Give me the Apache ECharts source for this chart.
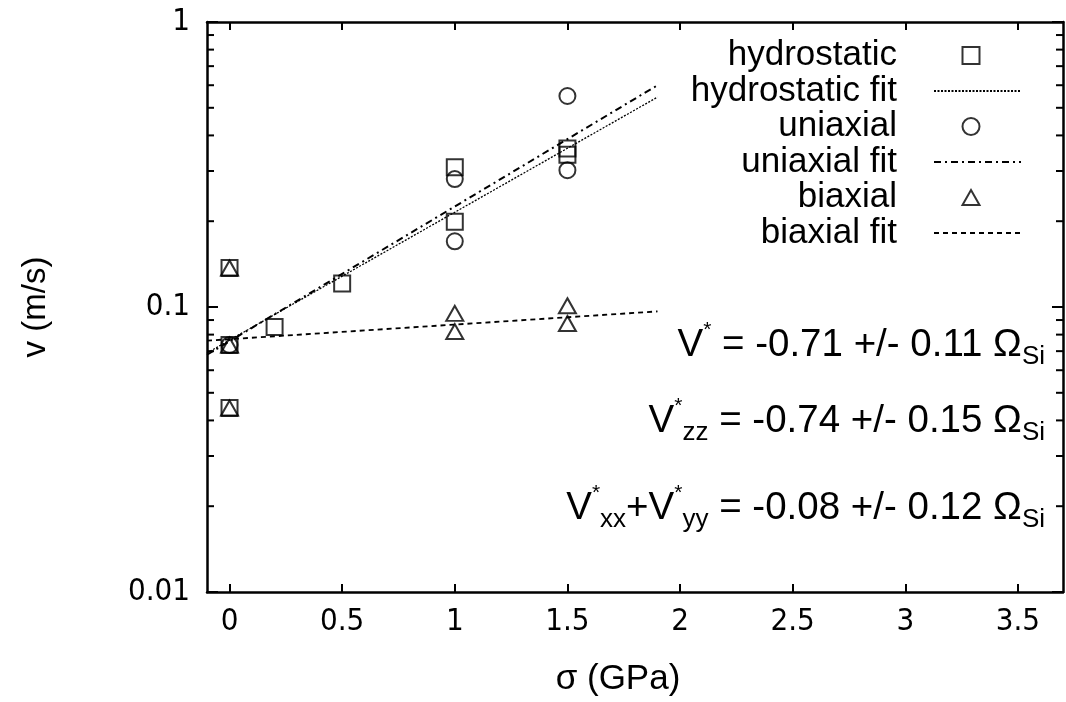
<!DOCTYPE html>
<html>
<head>
<meta charset="utf-8">
<script src="https://cdn.jsdelivr.net/npm/echarts@6/dist/echarts.min.js"></script>
<style>html,body{margin:0;padding:0;background:#fff}#c{width:1066px;height:702px}</style>
</head>
<body>
<div id="c"></div>
<script>
const xTicks = [0, 0.5, 1, 1.5, 2, 2.5, 3, 3.5];
const yMinorTicks = [0.02,0.03,0.04,0.05,0.06,0.07,0.08,0.09,0.2,0.3,0.4,0.5,0.6,0.7,0.8,0.9];

const hydroX = [0, 0, 0, 0.2, 0.5, 1, 1, 1.5, 1.5];
const hydroV = [0.137, 0.0735, 0.0442, 0.085, 0.121, 0.309, 0.199, 0.36, 0.342];
const uniX = [0, 1, 1, 1.5, 1.5];
const uniV = [0.0735, 0.281, 0.17, 0.55, 0.302];
const biX = [0, 0, 0, 1, 1, 1.5, 1.5];
const biV = [0.137, 0.0735, 0.0442, 0.095, 0.082, 0.101, 0.0875];
const fitX = [-0.1, 1.9];
const hydroFitV = [0.069, 0.545];
const uniFitV = [0.068, 0.60];
const biFitV = [0.0762, 0.0965];

const legendNames = ['hydrostatic', 'hydrostatic fit', 'uniaxial', 'uniaxial fit', 'biaxial', 'biaxial fit'];

const FONT = 'Liberation Sans, Arial, sans-serif';
const NARROW = '"Liberation Sans Narrow", "Arial Narrow", "DejaVu Sans Condensed", sans-serif';
const zip = (xs, ys) => xs.map((x, i) => [x, ys[i]]);
const markStyle = {color: 'rgba(0,0,0,0)', borderColor: '#000', borderWidth: 2};

const chart = echarts.init(document.getElementById('c'), null, {renderer: 'canvas'});

const richStyles = {
  m: {fontSize: 38.5, lineHeight: 50, verticalAlign: 'middle', fontFamily: FONT, color: '#000'},
  sup: {fontSize: 21, lineHeight: 21, verticalAlign: 'top', fontFamily: FONT, color: '#000'},
  sub: {fontSize: 26, lineHeight: 26, verticalAlign: 'bottom', fontFamily: FONT, color: '#000'}
};
function ann(text, y) {
  return {type: 'text', x: 1045, y: y, silent: true,
    style: {text: text, rich: richStyles, align: 'right', verticalAlign: 'middle', fontFamily: FONT}};
}

// one legend row per entry so each icon keeps its own size
const rowTop = 48, rowGap = 35.5;
function legendRow(i) {
  const name = legendNames[i];
  const isLine = i % 2 === 1;
  const cy = rowTop + i * rowGap;
  const base = {
    orient: 'vertical', align: 'right', selectedMode: false,
    data: [name],
    textStyle: {fontSize: 35, lineHeight: 30, fontFamily: FONT, color: '#000'}
  };
  if (isLine) {
    return Object.assign(base, {
      right: 39, top: cy - 15, itemWidth: 87, itemHeight: 17,
      itemStyle: {opacity: 0, borderWidth: 0},
      textStyle: Object.assign(base.textStyle, {padding: [0, 32, 0, 0]})
    });
  }
  const h = i === 4 ? 15 : 17;
  return Object.assign(base, {
    right: 80.5, top: cy - 15, itemWidth: 17, itemHeight: h,
    itemStyle: {color: 'rgba(0,0,0,0)', borderColor: '#000', borderWidth: 2},
    textStyle: Object.assign(base.textStyle, {padding: [0, 60.5, 0, 0]})
  });
}

const axisCommonX = {
  type: 'value', min: -0.1, max: 3.7,
  axisLine: {show: true, onZero: false, lineStyle: {color: '#000', width: 2.5}},
  splitLine: {show: false},
  axisTick: {show: true, inside: true, length: 8, customValues: xTicks, lineStyle: {color: '#000', width: 2}}
};
const axisCommonY = {
  type: 'log', logBase: 10, min: 0.01, max: 1,
  axisLine: {show: true, onZero: false, lineStyle: {color: '#000', width: 2.5}},
  splitLine: {show: false},
  axisTick: {show: true, inside: true, length: 11, lineStyle: {color: '#000', width: 2}}
};

chart.setOption({
  animation: false,
  backgroundColor: '#fff',
  grid: {left: 207, right: 3, top: 22, bottom: 110, containLabel: false},
  xAxis: [
    Object.assign({}, axisCommonX, {
      position: 'bottom',
      name: 'σ (GPa)', nameLocation: 'middle', nameGap: 70,
      nameTextStyle: {fontSize: 35, fontFamily: FONT, color: '#000', padding: [0, 34, 0, 0]},
      axisLabel: {show: true, customValues: xTicks, margin: 14, fontSize: 31, fontFamily: NARROW, color: '#000',
        formatter: v => String(v)}
    }),
    Object.assign({}, axisCommonX, {position: 'top', axisLabel: {show: false}})
  ],
  yAxis: [
    Object.assign({}, axisCommonY, {
      position: 'left',
      name: 'v (m/s)', nameLocation: 'middle', nameGap: 155, nameRotate: 90,
      nameTextStyle: {fontSize: 33, fontFamily: FONT, color: '#000'},
      axisLabel: {show: true, margin: 17, fontSize: 31, fontFamily: NARROW, color: '#000',
        formatter: v => String(+v.toPrecision(3))}
    }),
    Object.assign({}, axisCommonY, {position: 'right', axisLabel: {show: false}})
  ],
  legend: [0, 1, 2, 3, 4, 5].map(legendRow),
  series: [
    {name: 'hydrostatic', type: 'scatter', data: zip(hydroX, hydroV), symbol: 'rect', symbolSize: 16,
      itemStyle: markStyle, emphasis: {disabled: true}, z: 5},
    {name: 'hydrostatic fit', type: 'line', data: zip(fitX, hydroFitV), symbol: 'none', showSymbol: false,
      lineStyle: {color: '#000', width: 1.3, type: [2, 1.5]}, emphasis: {disabled: true}},
    {name: 'uniaxial', type: 'scatter', data: zip(uniX, uniV), symbol: 'circle', symbolSize: 16,
      itemStyle: markStyle, emphasis: {disabled: true}, z: 5},
    {name: 'uniaxial fit', type: 'line', data: zip(fitX, uniFitV), symbol: 'none', showSymbol: false,
      lineStyle: {color: '#000', width: 2, type: [7, 4, 2, 4]}, emphasis: {disabled: true}},
    {name: 'biaxial', type: 'scatter', data: zip(biX, biV), symbol: 'triangle', symbolSize: [17, 15],
      itemStyle: markStyle, emphasis: {disabled: true}, z: 5},
    {name: 'biaxial fit', type: 'line', data: zip(fitX, biFitV), symbol: 'none', showSymbol: false,
      lineStyle: {color: '#000', width: 1.8, type: [5, 4]}, emphasis: {disabled: true}},
    {name: 'minorTicks', type: 'custom', data: yMinorTicks.map(v => [-0.1, v]),
      encode: {x: 0, y: 1}, silent: true, clip: false,
      renderItem: function (params, api) {
        const v = api.value(1);
        const pl = api.coord([-0.1, v]);
        const pr = api.coord([3.7, v]);
        const st = {stroke: '#000', lineWidth: 2};
        return {type: 'group', children: [
          {type: 'line', shape: {x1: pl[0], y1: pl[1], x2: pl[0] + 7, y2: pl[1]}, style: st},
          {type: 'line', shape: {x1: pr[0], y1: pr[1], x2: pr[0] - 7, y2: pr[1]}, style: st}
        ]};
      }}
  ],
  graphic: [
    ann('{m|V}{sup|*}{m| = -0.71 +/- 0.11 Ω}{sub|Si}', 345),
    ann('{m|V}{sup|*}{sub|zz}{m| = -0.74 +/- 0.15 Ω}{sub|Si}', 421),
    ann('{m|V}{sup|*}{sub|xx}{m|+V}{sup|*}{sub|yy}{m| = -0.08 +/- 0.12 Ω}{sub|Si}', 508)
  ]
});
</script>
</body>
</html>
